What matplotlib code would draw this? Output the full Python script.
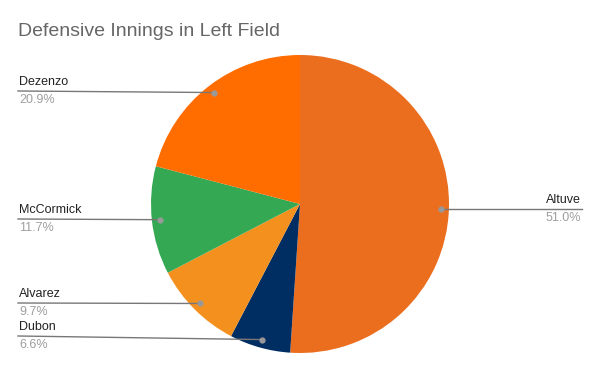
import numpy as np
import matplotlib.pyplot as plt

plt.rcParams['font.family'] = ['Liberation Sans', 'DejaVu Sans']

# Data
players = ["Altuve", "Dubon", "Alvarez", "McCormick", "Dezenzo"]
shares = [51.0, 6.6, 9.7, 11.7, 20.9]
colors = ["#EB6E1F", "#002D62", "#F4911E", "#34A853", "#FF6D01"]

H = 371
fig = plt.figure(figsize=(6, 3.71), dpi=100)
ax = fig.add_axes([0, 0, 1, 1])


def Y(y):
    # pixel row (from top) -> data y
    return H - y


cx, cy, R = 300, 204, 149
wedges, _ = ax.pie(shares, colors=colors, startangle=90, counterclock=False,
                   center=(cx, Y(cy)), radius=R, wedgeprops=dict(linewidth=0),
                   frame=True)
ax.set_xlim(0, 600)
ax.set_ylim(0, H)
ax.set_aspect("equal")
ax.axis("off")

ax.text(18, Y(32), "Defensive Innings in Left Field", fontsize=14, color="#666666",
        va="center", ha="left")

# label rows on the left side (line y positions)
left_y = {"Dezenzo": 91, "McCormick": 219, "Alvarez": 303, "Dubon": 336}

total = sum(shares)
cum = 0
for name, val in zip(players, shares):
    mid = 90 - 360 * (cum + val / 2) / total
    cum += val
    px = cx + 0.945 * R * np.cos(np.radians(mid))
    py = cy - 0.945 * R * np.sin(np.radians(mid))
    pct = f"{val:.1f}%"
    if name in left_y:
        ly = left_y[name]
        ax.plot([18, px], [Y(ly), Y(py)], color="#777777", lw=1, zorder=3)
        ax.plot(px, Y(py), "o", ms=3.5, color="#999999", zorder=4)
        ax.text(19, Y(ly - 3), name, fontsize=9, color="#222222", ha="left", va="bottom")
        ax.text(19, Y(ly + 3), pct, fontsize=9, color="#9E9E9E", ha="left", va="top")
    else:
        ly = py
        ax.plot([px, 582], [Y(ly), Y(ly)], color="#777777", lw=1, zorder=3)
        ax.plot(px, Y(py), "o", ms=3.5, color="#999999", zorder=4)
        ax.text(581, Y(ly - 3), name, fontsize=9, color="#222222", ha="right", va="bottom")
        ax.text(581, Y(ly + 3), pct, fontsize=9, color="#9E9E9E", ha="right", va="top")

fig.savefig("out.png", dpi=100, facecolor="white")
